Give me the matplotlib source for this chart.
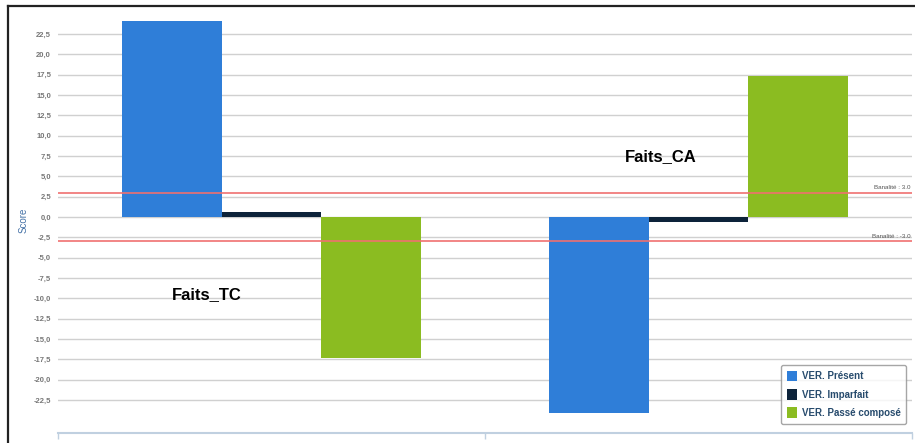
import numpy as np
import matplotlib.pyplot as plt

plt.rcParams['font.family'] = ['Liberation Sans', 'DejaVu Sans']

categories = ['Faits_TC', 'Faits_CA']
series = ['VER. Présent', 'VER. Imparfait', 'VER. Passé composé']
values = {
    'VER. Présent': [24.1, -24.1],
    'VER. Imparfait': [0.6, -0.6],
    'VER. Passé composé': [-17.3, 17.3],
}
colors = ['#2f7ed8', '#0d233a', '#8bbc21']
label_values = [-9.5, 7.4]
label_offsets = [-0.151, -0.088]
banalite = [3.0, -3.0]
yticks = np.arange(-22.5, 23, 2.5)

fig = plt.figure(figsize=(9.15, 4.43), dpi=100)
ax = fig.add_axes([58 / 915, 10 / 443, 854 / 915, 426 / 443])

x = np.arange(len(categories))
w = 0.234
for i, s in enumerate(series):
    ax.bar(x + (i - 1) * w, values[s], width=w, color=colors[i], label=s, zorder=3)

for i, c in enumerate(categories):
    ax.text(x[i] + label_offsets[i], label_values[i], c, ha='center', va='center',
            fontsize=12, fontweight='bold', color='black', zorder=5)

for b in banalite:
    ax.axhline(b, color='#f07070', lw=1.4, alpha=0.85, zorder=4)
    ax.text(1.497, b + 0.35, 'Banalité : %.1f' % b, ha='right', va='bottom',
            fontsize=4.5, color='#555555', zorder=5)

ax.set_xlim(-0.5, 1.5)
ax.set_ylim(-26.56, 25.82)
ax.set_yticks(yticks)
ax.set_yticklabels([('%.1f' % t).replace('.', ',') for t in yticks],
                   fontsize=5.5, color='#777777', fontweight='bold')
ax.tick_params(axis='y', length=0, pad=5)
ax.set_xticks([-0.5, 0.5, 1.5])
ax.set_xticklabels([])
ax.tick_params(axis='x', length=4, color='#c0d0e0', width=1)
ax.grid(axis='y', color='#d0d0d0', lw=1, zorder=0)
for sp in ['top', 'right', 'left']:
    ax.spines[sp].set_visible(False)
ax.spines['bottom'].set_color('#c0d0e0')
ax.spines['bottom'].set_linewidth(1.5)
ax.set_ylabel('Score', fontsize=7, color='#4572a7')
ax.yaxis.set_label_coords(-0.035, 0.5)

ax.legend(loc='lower right', bbox_to_anchor=(0.999, 0.01),
          frameon=True, edgecolor='#909090', fancybox=True, handlelength=1.0,
          handleheight=1.3, labelcolor='#274b6d', prop={'weight': 'bold', 'size': 7},
          borderpad=0.6, labelspacing=0.8, handletextpad=0.5)

# outer border (left and top)
fig.add_artist(plt.Line2D([8 / 915, 8 / 915], [0, 1 - 6 / 443], color='#222222', lw=1.6))
fig.add_artist(plt.Line2D([8 / 915, 1], [1 - 6 / 443, 1 - 6 / 443], color='#222222', lw=1.6))

fig.savefig('out.png', dpi=100)
